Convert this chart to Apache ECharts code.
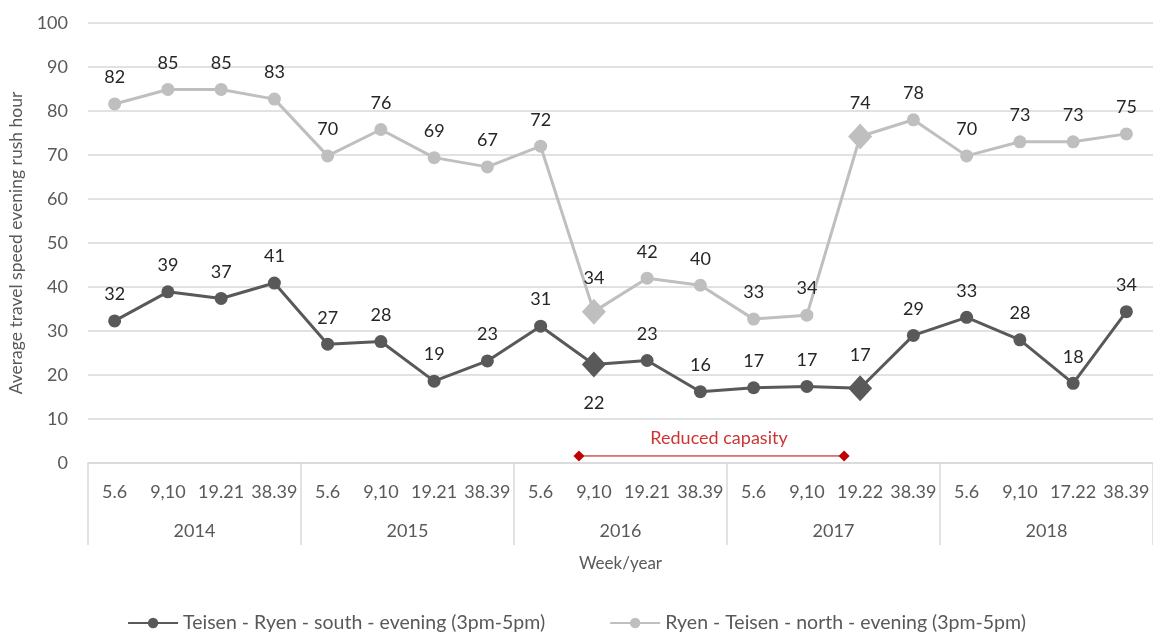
<!DOCTYPE html>
<html>
<head>
<meta charset="utf-8">
<script src="https://cdn.jsdelivr.net/npm/echarts@6/dist/echarts.min.js"></script>
<style>
  html, body { margin: 0; padding: 0; background: #fff; }
  #chart { width: 1153px; height: 632px; }
</style>
</head>
<body>
<div id="chart"></div>
<script>
// week labels along the axis, grouped 4 per year
const weeks = ['5.6', '9,10', '19.21', '38.39', '5.6', '9,10', '19.21', '38.39', '5.6', '9,10', '19.21', '38.39',
  '5.6', '9,10', '19.22', '38.39', '5.6', '9,10', '17.22', '38.39'];
const years = ['2014', '2015', '2016', '2017', '2018'];

const south = [32.3, 38.9, 37.4, 40.9, 27.0, 27.6, 18.6, 23.2, 31.1, 22.4, 23.3, 16.2, 17.1, 17.4, 17.0, 29.0, 33.1, 28.0, 18.1, 34.4];
const north = [81.6, 84.9, 84.9, 82.7, 69.8, 75.8, 69.4, 67.3, 72.0, 34.4, 42.0, 40.4, 32.7, 33.6, 74.2, 78.0, 69.8, 73.0, 73.0, 74.8];

const diamondIdx = [9, 14];     // start / end of reduced capacity
const southBelowIdx = [9];      // label under the point
const capacityRange = [[8.72, 1.6], [13.7, 1.6]];
const capacityText = [[11.35, 5.7]];

const FONT = 'Lato';
const darkCol = '#595959';
const lightCol = '#bfbfbf';

function buildData(values, below) {
  return values.map((v, i) => {
    const item = { value: v };
    if (diamondIdx.includes(i)) {
      item.symbol = 'diamond';
      item.symbolSize = [24, 26];
    }
    if (below.includes(i)) {
      item.label = { position: 'bottom', distance: 17 };
    }
    return item;
  });
}

const chart = echarts.init(document.getElementById('chart'));

const lbl = {
  show: true,
  position: 'top',
  distance: 11,
  color: '#262626',
  fontSize: 18,
  fontFamily: FONT,
  formatter: p => Math.round(p.value)
};

chart.setOption({
  animation: false,
  textStyle: { fontFamily: FONT },
  grid: { left: 88, right: 0, top: 23, bottom: 169, outerBoundsMode: 'none' },
  legend: {
    data: ['Teisen - Ryen - south - evening (3pm-5pm)', 'Ryen - Teisen - north - evening (3pm-5pm)'],
    left: 'center',
    top: 608,
    itemWidth: 50,
    itemHeight: 13,
    itemGap: 64,
    textStyle: { color: darkCol, fontSize: 19.5, fontFamily: FONT }
  },
  xAxis: [
    {
      type: 'category',
      data: weeks,
      axisLine: { lineStyle: { color: '#d9d9d9', width: 1.5 } },
      axisTick: { show: false },
      axisLabel: { interval: 0, margin: 20, color: darkCol, fontSize: 18, fontFamily: FONT },
      name: 'Week/year',
      nameLocation: 'middle',
      nameGap: 92,
      nameTextStyle: { color: darkCol, fontSize: 17, fontFamily: FONT }
    },
    {
      type: 'category',
      data: years,
      position: 'bottom',
      axisLine: { show: false },
      axisTick: { show: true, interval: 0, length: 82, lineStyle: { color: '#d9d9d9', width: 1.5 } },
      axisLabel: { interval: 0, margin: 59, color: darkCol, fontSize: 18, fontFamily: FONT }
    },
    {
      type: 'value',
      min: -0.5,
      max: 19.5,
      show: false
    }
  ],
  yAxis: {
    type: 'value',
    min: 0,
    max: 100,
    interval: 10,
    axisLine: { show: false },
    axisTick: { show: false },
    axisLabel: { margin: 20, color: darkCol, fontSize: 18, fontFamily: FONT },
    splitLine: { lineStyle: { color: '#d9d9d9', width: 1.5 } },
    name: 'Average travel speed evening rush hour',
    nameLocation: 'middle',
    nameGap: 63,
    nameTextStyle: { color: darkCol, fontSize: 17.5, fontFamily: FONT }
  },
  series: [
    {
      name: 'Teisen - Ryen - south - evening (3pm-5pm)',
      type: 'line',
      xAxisIndex: 0,
      data: buildData(south, southBelowIdx),
      symbol: 'circle',
      symbolSize: 13,
      color: darkCol,
      lineStyle: { width: 3, color: darkCol },
      itemStyle: { color: darkCol },
      label: lbl,
      z: 3
    },
    {
      name: 'Ryen - Teisen - north - evening (3pm-5pm)',
      type: 'line',
      xAxisIndex: 0,
      data: buildData(north, []),
      symbol: 'circle',
      symbolSize: 13,
      color: lightCol,
      lineStyle: { width: 3, color: lightCol },
      itemStyle: { color: lightCol },
      label: lbl,
      z: 2
    },
    {
      name: 'capacity',
      type: 'line',
      xAxisIndex: 2,
      data: capacityRange,
      symbol: 'diamond',
      symbolSize: 11,
      lineStyle: { color: '#c00000', width: 1 },
      itemStyle: { color: '#c00000' },
      silent: true
    },
    {
      name: 'capacityLabel',
      type: 'scatter',
      xAxisIndex: 2,
      data: capacityText,
      symbolSize: 0,
      label: {
        show: true,
        position: 'inside',
        formatter: 'Reduced capasity',
        color: '#c00000',
        fontSize: 18,
        fontFamily: FONT
      },
      silent: true
    }
  ]
});
</script>
</body>
</html>
